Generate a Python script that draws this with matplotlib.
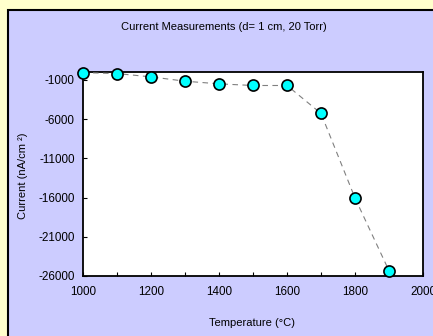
import matplotlib
matplotlib.use("Agg")
import matplotlib.pyplot as plt
from matplotlib.patches import Rectangle

# données
temperature = [1000, 1100, 1200, 1300, 1400, 1500, 1600, 1700, 1800, 1900]
courant = [-80, -200, -620, -1170, -1510, -1720, -1720, -5280, -16060, -25330]

xticks = [1000, 1200, 1400, 1600, 1800, 2000]
yticks = [-26000, -21000, -16000, -11000, -6000, -1000]

plt.rcParams['font.family'] = ['Liberation Sans', 'DejaVu Sans']
plt.rcParams['axes.unicode_minus'] = False

W, H = 433, 336
fig = plt.figure(figsize=(W / 100, H / 100), dpi=100)
fig.patch.set_facecolor("#FFFFCC")

# panneau lavande avec bordure noire (bords droit et bas hors image)
panneau = Rectangle((8 / W, -0.05), 1.1, 1 - 10 / H + 0.05, transform=fig.transFigure,
                    facecolor="#CCCCFF", edgecolor="black", linewidth=1.5, zorder=-1)
fig.patches.append(panneau)

ax = fig.add_axes([83 / W, 1 - 276 / H, (423 - 83) / W, (276 - 72) / H])
ax.set_zorder(1)
ax.set_facecolor("white")
ax.plot(temperature, courant, color="#808080", linestyle=(0, (5, 4)), linewidth=0.8,
        marker="o", markersize=8, markerfacecolor="#00FFFF", markeredgecolor="black",
        markeredgewidth=1.2, clip_on=False, zorder=3)

ax.set_xlim(1000, 2000)
ax.set_ylim(-26000, 0)
ax.set_xticks(xticks)
ax.set_xticks(range(1000, 2001, 100), minor=True)
ax.set_yticks(yticks)
ax.tick_params(axis="both", which="both", direction="in", length=3, width=0.8,
               labelsize=8.4)
ax.tick_params(axis="x", pad=7.5)
ax.tick_params(axis="y", pad=6)
for s in ax.spines.values():
    s.set_linewidth(1.3)

fig.text(224 / W, 1 - 27 / H, "Current Measurements (d= 1 cm, 20 Torr)",
         ha="center", va="center", fontsize=8)
fig.text(252 / W, 1 - 323 / H, "Temperature (°C)", ha="center", va="center", fontsize=8)
fig.text(23 / W, 1 - 176 / H, "Current (nA/cm ²)", ha="center", va="center",
         rotation=90, fontsize=8)

fig.savefig("out.png", dpi=100, facecolor=fig.get_facecolor())
